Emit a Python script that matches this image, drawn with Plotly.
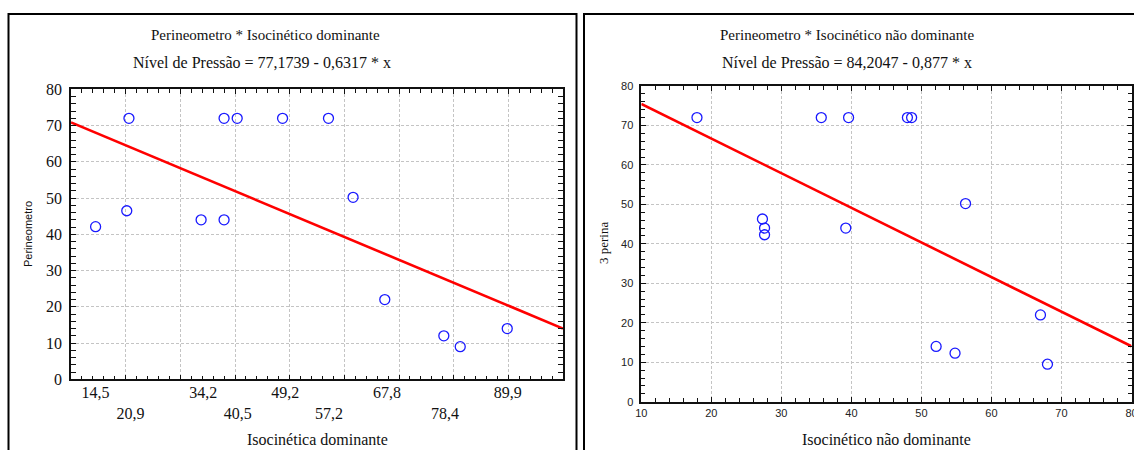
import plotly.graph_objects as go

W, H = 1134, 450

# ---------------- data ----------------
# Left panel: Perineometro * Isocinético dominante
left_x = [14.5, 20.2, 20.6, 33.8, 38.0, 38.0, 40.4, 48.7, 57.1, 61.6, 67.4, 78.2, 81.2, 89.8]
left_y = [42.1, 46.5, 72.0, 44.0, 44.0, 72.0, 72.0, 72.0, 72.0, 50.2, 22.0, 12.0, 9.0, 14.0]
left_intercept, left_slope = 77.1739, -0.6317
left_xrange = [10, 100]
left_tickvals = [14.5, 20.9, 34.2, 40.5, 49.2, 57.2, 67.8, 78.4, 89.9]
left_ticktext = ["14,5", "<br>20,9", "34,2", "<br>40,5", "49,2", "<br>57,2", "67,8", "<br>78,4", "89,9"]

# Right panel: Perineometro * Isocinético não dominante
right_x = [17.95, 27.3, 27.6, 27.6, 35.7, 39.6, 39.2, 48.0, 48.6, 56.3, 52.1, 54.8, 67.0, 68.0]
right_y = [72.0, 46.3, 44.0, 42.3, 72.0, 72.0, 44.0, 72.0, 72.0, 50.2, 14.0, 12.3, 22.0, 9.5]
right_intercept, right_slope = 84.2047, -0.877
right_xrange = [10, 80]

yrange = [0, 80]

# ---------------- helpers ----------------
def px(x):
    return x / W

def py(y):
    return 1 - y / H

SERIF = "Liberation Serif, Times New Roman, serif"
SANS = "Liberation Sans, Arial, sans-serif"
GRID = "#c4c4c4"
BLUE = "#1a1aff"
RED = "#ff0000"

fig = go.Figure()

# regression lines (from displayed equations)
lx = left_xrange
fig.add_trace(go.Scatter(x=lx, y=[left_intercept + left_slope * v for v in lx],
                         mode="lines", line=dict(color=RED, width=2.6),
                         xaxis="x", yaxis="y", showlegend=False, hoverinfo="skip"))
fig.add_trace(go.Scatter(x=left_x, y=left_y, mode="markers",
                         marker=dict(symbol="circle-open", size=10, color=BLUE, line=dict(width=1.3)),
                         xaxis="x3", yaxis="y", showlegend=False))

rx = right_xrange
fig.add_trace(go.Scatter(x=rx, y=[right_intercept + right_slope * v for v in rx],
                         mode="lines", line=dict(color=RED, width=2.6),
                         xaxis="x2", yaxis="y2", showlegend=False, hoverinfo="skip"))
fig.add_trace(go.Scatter(x=right_x, y=right_y, mode="markers",
                         marker=dict(symbol="circle-open", size=10, color=BLUE, line=dict(width=1.3)),
                         xaxis="x2", yaxis="y2", showlegend=False))

common_axis = dict(
    showline=True, linecolor="#111", linewidth=1.5, mirror="allticks",
    ticks="inside", ticklen=5, tickcolor="#111", tickwidth=1,
    showgrid=True, gridcolor=GRID, gridwidth=1, griddash="3px,2px",
    zeroline=False, fixedrange=True, automargin=False, ticklabeloverflow="allow",
    minor=dict(ticks="inside", ticklen=4, tickcolor="#111", tickwidth=1, dtick=2, showgrid=False),
)

L_dom_x = [px(71), px(563)]
L_dom_y = [py(379.3), py(89.3)]
R_dom_x = [px(641.3), px(1131.5)]
R_dom_y = [py(401.7), py(86)]

fig.update_layout(
    width=W, height=H,
    margin=dict(l=0, r=0, t=0, b=0, pad=0, autoexpand=False),
    paper_bgcolor="white", plot_bgcolor="white",
    xaxis=dict(common_axis, domain=L_dom_x, range=left_xrange, anchor="y",
               tick0=10, dtick=10, showticklabels=False),
    xaxis3=dict(overlaying="x", anchor="y", range=left_xrange, domain=L_dom_x,
                tickmode="array", tickvals=left_tickvals, ticktext=left_ticktext,
                ticks="", showgrid=False, showline=False, zeroline=False, fixedrange=True,
                automargin=False, ticklabeloverflow="allow", ticklabelstandoff=2,
                tickfont=dict(family=SERIF, size=16, color="#111"), side="bottom"),
    yaxis=dict(common_axis, domain=L_dom_y, range=yrange, anchor="x", ticklabelstandoff=4,
               tick0=0, dtick=10, tickfont=dict(family=SERIF, size=16, color="#111")),
    xaxis2=dict(common_axis, domain=R_dom_x, range=right_xrange, anchor="y2",
                tick0=10, dtick=10, tickfont=dict(family=SANS, size=11, color="#222")),
    yaxis2=dict(common_axis, domain=R_dom_y, range=yrange, anchor="x2", ticklabelstandoff=4,
                tick0=0, dtick=10, tickfont=dict(family=SANS, size=11, color="#222")),
    shapes=[
        dict(type="rect", xref="paper", yref="paper", x0=px(8.5), x1=px(576.5), y0=-0.1, y1=py(14),
             line=dict(color="black", width=2), layer="above"),
        dict(type="rect", xref="paper", yref="paper", x0=px(584), x1=1.2, y0=-0.1, y1=py(14),
             line=dict(color="black", width=2), layer="above"),
    ],
    annotations=[
        dict(text="Perineometro * Isocinético dominante", x=px(265), y=py(35),
             font=dict(family=SERIF, size=15, color="#111")),
        dict(text="Nível de Pressão = 77,1739 - 0,6317 * x", x=px(262), y=py(62),
             font=dict(family=SERIF, size=16, color="#111")),
        dict(text="Perineometro * Isocinético não dominante", x=px(847), y=py(35),
             font=dict(family=SERIF, size=15, color="#111")),
        dict(text="Nível de Pressão = 84,2047 - 0,877 * x", x=px(847), y=py(62),
             font=dict(family=SERIF, size=16, color="#111")),
        dict(text="Isocinética dominante", x=px(317), y=py(439),
             font=dict(family=SERIF, size=16, color="#111")),
        dict(text="Isocinético não dominante", x=px(886), y=py(439),
             font=dict(family=SERIF, size=16, color="#111")),
        dict(text="Perineometro", x=px(28), y=py(234), textangle=-90,
             font=dict(family=SANS, size=11, color="#111")),
        dict(text="3 perina", x=px(603), y=py(243), textangle=-90,
             font=dict(family=SERIF, size=13, color="#111")),
    ],
)
for a in fig.layout.annotations:
    a.xref = "paper"
    a.yref = "paper"
    a.showarrow = False
    a.xanchor = "center"
    a.yanchor = "middle"

fig.write_html("out.html")
